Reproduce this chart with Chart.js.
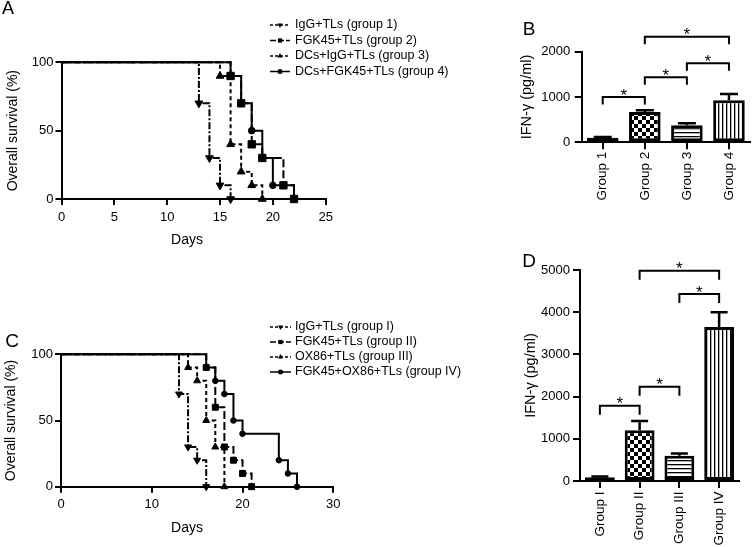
<!DOCTYPE html>
<html><head><meta charset="utf-8"><title>Survival and IFN-γ</title>
<script src="https://cdn.jsdelivr.net/npm/chart.js@4.4.1/dist/chart.umd.min.js"></script>
<style>
html,body{margin:0;padding:0;background:#fff;}
#wrap{position:relative;width:753px;height:547px;overflow:hidden;background:#fff;}
canvas{position:absolute;}
</style></head><body>
<div id="wrap">
<canvas id="cA" width="470" height="260" style="left:0;top:0"></canvas>
<canvas id="cB" width="283" height="260" style="left:470px;top:0"></canvas>
<canvas id="cC" width="470" height="287" style="left:0;top:260px"></canvas>
<canvas id="cD" width="283" height="307" style="left:470px;top:240px"></canvas>
</div>
<script>
// ---------- Panel A : Kaplan-Meier (days, % survival) ----------
const daysA1 = [0, 13, 14, 15, 16];          const survA1 = [100, 70, 30, 10, 0];
const daysA2 = [0, 16, 17, 18, 19, 21, 22];  const survA2 = [100, 90, 70, 40, 30, 10, 0];
const daysA3 = [0, 15, 16, 17, 18, 19];      const survA3 = [100, 90, 40, 20, 10, 0];
const daysA4 = [0, 16, 17, 18, 19, 20, 22];  const survA4 = [100, 90, 70, 50, 30, 10, 0];
const legendA = ['IgG+TLs (group 1)', 'FGK45+TLs (group 2)', 'DCs+IgG+TLs (group 3)', 'DCs+FGK45+TLs (group 4)'];

// ---------- Panel B : IFN-γ (pg/ml) ----------
const groupsB = ['Group 1', 'Group 2', 'Group 3', 'Group 4'];
const ifnB = [100, 670, 375, 930];
const errB = [15, 40, 45, 135];
const sigFromB = [0, 1, 2, 1];
const sigToB   = [1, 2, 3, 3];
const sigLevelB = [1000, 1435, 1745, 2330];

// ---------- Panel C : Kaplan-Meier ----------
const daysC1 = [0, 13, 14, 15, 16];                  const survC1 = [100, 70, 30, 20, 0];
const daysC2 = [0, 16, 17, 18, 19, 20, 21];          const survC2 = [100, 90, 60, 30, 20, 10, 0];
const daysC3 = [0, 14, 15, 16, 17, 18];              const survC3 = [100, 90, 80, 50, 30, 0];
const daysC4 = [0, 16, 17, 18, 19, 20, 24, 25, 26];  const survC4 = [100, 90, 80, 70, 50, 40, 20, 10, 0];
const legendC = ['IgG+TLs (group I)', 'FGK45+TLs (group II)', 'OX86+TLs (group III)', 'FGK45+OX86+TLs (group IV)'];

// ---------- Panel D : IFN-γ (pg/ml) ----------
const groupsD = ['Group I', 'Group II', 'Group III', 'Group IV'];
const ifnD = [90, 1200, 600, 3650];
const errD = [15, 220, 50, 350];
const sigFromD = [0, 1, 2, 1];
const sigToD   = [1, 2, 3, 3];
const sigLevelD = [1785, 2235, 4430, 4985];

// ================= rendering =================
const FONT = "'Liberation Sans', Arial, Helvetica, sans-serif";
Chart.defaults.font.family = FONT;
Chart.defaults.color = '#000';
Chart.defaults.font.size = 13;
Chart.defaults.animation = false;

const lineStyles = [
  {dash: [7, 2, 2, 2], marker: 'triangle', rot: 180, legDash: [3, 2]},
  {dash: [8, 3], marker: 'rect', rot: 0, legDash: [6, 2]},
  {dash: [4, 3], marker: 'triangle', rot: 0, legDash: [3, 2]},
  {dash: [], marker: 'circle', rot: 0, legDash: []}
];
const drawOrder = [1, 0, 2, 3];
const plainNumber = v => String(v);

function gridStyle(len) {
  return {display: true, drawOnChartArea: false, drawTicks: true, tickLength: len, color: '#000', lineWidth: 2};
}
const borderStyle = {display: true, color: '#000', width: 2};

function drawMarker(ctx, style, x, y, r, rot) {
  ctx.beginPath();
  if (style === 'rect') { const s = r * 0.707; ctx.rect(x - s, y - s, 2 * s, 2 * s); }
  else if (style === 'circle') { ctx.arc(x, y, r, 0, Math.PI * 2); }
  else {
    const d = rot === 180 ? -1 : 1;
    ctx.moveTo(x, y - d * r);
    ctx.lineTo(x + r * 0.866, y + d * r * 0.5);
    ctx.lineTo(x - r * 0.866, y + d * r * 0.5);
    ctx.closePath();
  }
  ctx.fill();
}

function makeKmDeco(g, labels) {
  return {
    id: 'kmDeco' + g.letter,
    afterDraw(chart) {
      const ctx = chart.ctx;
      ctx.save();
      ctx.fillStyle = '#000'; ctx.strokeStyle = '#000';
      ctx.textAlign = 'center'; ctx.textBaseline = 'middle';
      ctx.font = g.letterSize + 'px ' + FONT;
      ctx.fillText(g.letter, g.letterX, g.letterY);
      ctx.font = '14px ' + FONT;
      ctx.fillText('Days', g.daysX, g.daysY);
      ctx.font = '12.5px ' + FONT;
      ctx.textAlign = 'left';
      labels.forEach((t, k) => {
        const y = g.rowY[k], st = lineStyles[k];
        ctx.lineWidth = 1.5;
        ctx.setLineDash(st.legDash);
        ctx.beginPath(); ctx.moveTo(g.lx0, y); ctx.lineTo(g.lx1, y); ctx.stroke();
        ctx.setLineDash([]);
        drawMarker(ctx, st.marker, (g.lx0 + g.lx1) / 2, y, g.legR[k], st.rot);
        ctx.fillText(t, g.tx, y);
      });
      ctx.restore();
    }
  };
}

function kmChart(id, days, surv, labels, g) {
  const datasets = days.map((d, k) => ({
    label: labels[k],
    data: d.map((v, i) => ({x: v, y: surv[k][i]})),
    stepped: true, tension: 0, fill: false,
    borderColor: '#000', borderWidth: 2, borderDash: lineStyles[k].dash,
    pointStyle: lineStyles[k].marker, pointRotation: lineStyles[k].rot,
    pointRadius: c => c.dataIndex === 0 ? 0 : g.r[k],
    pointHoverRadius: 0,
    pointBackgroundColor: '#000', pointBorderColor: '#000', pointBorderWidth: 1,
    clip: 8, order: drawOrder[k]
  }));
  return new Chart(document.getElementById(id), {
    type: 'line',
    data: {datasets},
    options: {
      responsive: false, animation: false, devicePixelRatio: 1, events: [],
      layout: {padding: g.pad},
      plugins: {legend: {display: false}, tooltip: {enabled: false}},
      scales: {
        x: {type: 'linear', min: 0, max: g.xmax,
            ticks: {stepSize: g.xstep, padding: g.xtp, font: {size: 13}, callback: plainNumber},
            grid: gridStyle(6), border: borderStyle,
            afterFit: s => { s.height = g.xh; }},
        y: {type: 'linear', min: 0, max: 100,
            ticks: {stepSize: 50, padding: g.ytp, font: {size: 13}, callback: plainNumber},
            grid: gridStyle(6), border: borderStyle,
            title: {display: true, text: 'Overall survival (%)', font: {size: 14}, padding: {top: g.ytitle, bottom: 0}},
            afterFit: s => { s.width = g.yw; }}
      }
    },
    plugins: [makeKmDeco(g, labels)]
  });
}

function makePattern(ctx, kind) {
  const c = document.createElement('canvas');
  let w = 4, h = 4;
  if (kind === 'check') { w = 8; h = 8; }
  c.width = w; c.height = h;
  const p = c.getContext('2d');
  p.fillStyle = '#fff'; p.fillRect(0, 0, w, h);
  p.fillStyle = '#000';
  if (kind === 'dots') { p.fillStyle = '#333'; p.fillRect(0, 1, 2, 1); }
  if (kind === 'check') { p.fillRect(0, 0, 4, 4); p.fillRect(4, 4, 4, 4); }
  if (kind === 'hstripe') { p.fillRect(0, 0, w, 1.3); }
  if (kind === 'vstripe') { p.fillRect(0, 0, 1.3, h); }
  return ctx.createPattern(c, 'repeat');
}

function makeBarDeco(vals, errs, sFrom, sTo, sLevel, g) {
  return {
    id: 'barDeco' + g.letter,
    afterDatasetsDraw(chart) {
      const ctx = chart.ctx, y = chart.scales.y;
      const meta = chart.getDatasetMeta(0);
      ctx.save();
      ctx.strokeStyle = '#000'; ctx.fillStyle = '#000';
      ctx.lineWidth = 2.5;
      vals.forEach((v, i) => {
        const cx = meta.data[i].x;
        const yt = y.getPixelForValue(v), ye = y.getPixelForValue(v + errs[i]);
        ctx.beginPath();
        ctx.moveTo(cx, yt); ctx.lineTo(cx, ye);
        ctx.moveTo(cx - g.cap / 2, ye); ctx.lineTo(cx + g.cap / 2, ye);
        ctx.stroke();
      });
      ctx.lineWidth = 2;
      ctx.font = g.starSize + 'px ' + FONT;
      ctx.textAlign = 'center'; ctx.textBaseline = 'alphabetic';
      sFrom.forEach((a, k) => {
        const x1 = meta.data[a].x, x2 = meta.data[sTo[k]].x;
        const yy = y.getPixelForValue(sLevel[k]);
        ctx.beginPath();
        ctx.moveTo(x1, yy + g.leg); ctx.lineTo(x1, yy); ctx.lineTo(x2, yy); ctx.lineTo(x2, yy + g.leg);
        ctx.stroke();
        ctx.fillText('*', (x1 + x2) / 2, yy + g.starDy);
      });
      ctx.textBaseline = 'middle';
      ctx.font = g.letterSize + 'px ' + FONT;
      ctx.fillText(g.letter, g.letterX, g.letterY);
      ctx.restore();
    }
  };
}

function barChart(id, groups, vals, errs, sFrom, sTo, sLevel, g) {
  const el = document.getElementById(id);
  const ctx = el.getContext('2d');
  const kinds = ['dots', 'check', 'hstripe', 'vstripe'];
  const fills = kinds.map(k => makePattern(ctx, k));
  return new Chart(el, {
    type: 'bar',
    data: {labels: groups, datasets: [{
      data: vals, backgroundColor: fills, borderColor: '#000', borderWidth: 3,
      borderSkipped: false, categoryPercentage: 1, barPercentage: 0.75
    }]},
    options: {
      responsive: false, animation: false, devicePixelRatio: 1, events: [],
      layout: {padding: g.pad},
      plugins: {legend: {display: false}, tooltip: {enabled: false}},
      scales: {
        x: {type: 'category', offset: true,
            grid: Object.assign(gridStyle(7), {offset: false}), border: borderStyle,
            ticks: {minRotation: 90, maxRotation: 90, autoSkip: false, padding: g.xtp, font: {size: 13.5}},
            afterFit: s => { s.height = g.xh; }},
        y: {min: 0, max: g.ymax,
            ticks: {stepSize: 1000, padding: g.ytp, font: {size: 13}, callback: plainNumber},
            grid: gridStyle(7), border: borderStyle,
            title: {display: true, text: 'IFN-γ (pg/ml)', font: {size: 14.5}, padding: {top: g.ytitle, bottom: 0}},
            afterFit: s => { s.width = g.yw; }}
      }
    },
    plugins: [makeBarDeco(vals, errs, sFrom, sTo, sLevel, g)]
  });
}

kmChart('cA', [daysA1, daysA2, daysA3, daysA4], [survA1, survA2, survA3, survA4], legendA, {
  letter: 'A', letterSize: 18, letterX: 8, letterY: 9,
  pad: {left: 0, right: 144.3, top: 62.3, bottom: 0},
  xmax: 25, xstep: 5, xh: 61, xtp: 5, yw: 61.5, ytp: 2, ytitle: 5,
  r: [4.5, 5.2, 4.5, 3.3],
  daysX: 187, daysY: 240,
  rowY: [25, 40.5, 56, 71.5], lx0: 270, lx1: 290, tx: 295, legR: [3, 3, 3, 2.5]
});

kmChart('cC', [daysC1, daysC2, daysC3, daysC4], [survC1, survC2, survC3, survC4], legendC, {
  letter: 'C', letterSize: 19, letterX: 12, letterY: 82,
  pad: {left: 0, right: 136.7, top: 94.3, bottom: 0},
  xmax: 30, xstep: 10, xh: 60.3, xtp: 4, yw: 61, ytp: 2, ytitle: 3,
  r: [4, 4.2, 4, 2.8],
  daysX: 187, daysY: 268,
  rowY: [67, 82, 97, 112], lx0: 270, lx1: 291, tx: 295, legR: [3, 3, 3, 2.5]
});

barChart('cB', groupsB, ifnB, errB, sigFromB, sigToB, sigLevelB, {
  letter: 'B', letterSize: 19, letterX: 59, letterY: 30,
  pad: {left: 0, right: 3, top: 51.7, bottom: 0},
  ymax: 2000, xh: 117.7, xtp: 2.5, yw: 111.7, ytp: 4.5, ytitle: 48,
  cap: 18, leg: 7.5, starSize: 17, starDy: 3.5
});

barChart('cD', groupsD, ifnD, errD, sigFromD, sigToD, sigLevelD, {
  letter: 'D', letterSize: 19, letterX: 59, letterY: 22,
  pad: {left: 0, right: 14, top: 30, bottom: 0},
  ymax: 5000, xh: 66, xtp: 3.5, yw: 110, ytp: 3, ytitle: 52.5,
  cap: 17, leg: 9, starSize: 17, starDy: 3.5
});
</script>
</body></html>
